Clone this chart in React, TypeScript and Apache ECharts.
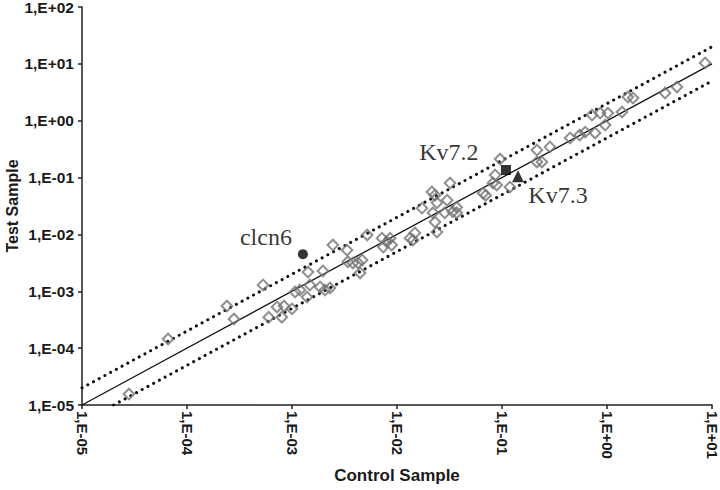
import React, { useEffect, useRef } from "react";
import * as echarts from "echarts";

// Control sample (x) and test sample (y) expression values
const controlValues = [
  2.8e-5, 6.6e-5, 2.4e-4, 2.8e-4, 5.3e-4, 6.0e-4, 7.2e-4, 8.4e-4, 8.0e-4, 1.0e-3,
  1.07e-3, 1.19e-3, 1.39e-3, 1.48e-3, 1.42e-3, 1.97e-3, 1.85e-3, 2.06e-3, 2.3e-3, 2.45e-3,
  3.34e-3, 3.4e-3, 3.8e-3, 4.25e-3, 4.65e-3, 4.45e-3, 5.2e-3, 7.2e-3, 8.0e-3, 8.6e-3,
  8.9e-3, 7.4e-3, 1.33e-2, 1.48e-2, 1.42e-2, 1.73e-2, 2.15e-2, 2.3e-2, 2.4e-2, 2.2e-2,
  2.3e-2, 3.2e-2, 3.0e-2, 2.85e-2, 3.4e-2, 3.7e-2, 3.7e-2, 2.4e-2, 6.6e-2, 7.0e-2,
  8.6e-2, 8.9e-2, 9.6e-2, 8.2e-2, 1.19e-1, 2.15e-1, 2.86e-1, 2.15e-1, 2.4e-1, 4.45e-1,
  5.5e-1, 6.2e-1, 7.7e-1, 7.2e-1, 8.6e-1, 1.02, 0.96, 1.39, 1.58, 1.77,
  3.57, 4.64, 8.6,
];
const testValues = [
  1.56e-5, 1.45e-4, 5.5e-4, 3.25e-4, 1.29e-3, 3.5e-4, 5.3e-4, 5.5e-4, 3.5e-4, 4.9e-4,
  9.7e-4, 1.05e-3, 7.9e-4, 1.29e-3, 2.18e-3, 2.28e-3, 1.19e-3, 1.05e-3, 1.14e-3, 6.5e-3,
  5.3e-3, 3.3e-3, 3.15e-3, 3.15e-3, 3.55e-3, 2.1e-3, 9.8e-3, 8.6e-3, 7.4e-3, 8.6e-3,
  6.5e-3, 6.0e-3, 8.6e-3, 1.06e-2, 8.0e-3, 2.9e-2, 5.6e-2, 4.9e-2, 3.6e-2, 2.4e-2,
  1.65e-2, 8.0e-2, 4.0e-2, 2.4e-2, 2.5e-2, 3.0e-2, 2.4e-2, 1.1e-2, 5.3e-2, 4.9e-2,
  1.11e-1, 7.4e-2, 2.12e-1, 8.0e-2, 6.8e-2, 3.05e-1, 3.45e-1, 1.88e-1, 1.88e-1, 4.97e-1,
  5.6e-1, 6.3e-1, 6.1e-1, 1.26, 1.36, 1.36, 0.84, 1.42, 2.61, 2.51,
  3.07, 3.92, 10.4,
];

// Highlighted genes
const geneNames = ["clcn6", "Kv7.2", "Kv7.3"];
const geneControl = [1.27e-3, 1.09e-1, 1.42e-1];
const geneTest = [4.5e-3, 1.36e-1, 1.06e-1];

// Reference lines: y = x, y = 2x, y = x/2
const identityX = [1e-5, 10];
const identityY = [1e-5, 10];
const upperX = [1e-5, 10];
const upperY = [2e-5, 20];
const lowerX = [2e-5, 10];
const lowerY = [1e-5, 5];

const xMin = 1e-5;
const xMax = 10;
const yMin = 1e-5;
const yMax = 100;

const fmt = (v: number) => {
  const e = Math.round(Math.log10(v));
  return "1,E" + (e < 0 ? "-" : "+") + String(Math.abs(e)).padStart(2, "0");
};

const zip = (a: number[], b: number[]) => a.map((v, i) => [v, b[i]]);

export default function App() {
  const ref = useRef<HTMLDivElement>(null);
  useEffect(() => {
    if (!ref.current) return;
    const chart = echarts.init(ref.current, null, { renderer: "svg" });
    const axisText = {
      fontFamily: "Liberation Sans, Arial, sans-serif",
      fontWeight: "bold" as const,
      color: "#1a1a1a",
    };
    const dotted = {
      color: "#111",
      width: 3,
      type: [0.1, 6.4] as number[],
      cap: "round" as const,
    };
    const geneSymbols = ["circle", "rect", "triangle"];
    const geneSizes = [10, 10, 12];
    const geneOffsets = [
      [-37, -17],
      [-57, -18],
      [40, 19],
    ];
    chart.setOption({
      animation: false,
      backgroundColor: "#fff",
      grid: {
        left: 82,
        right: 8,
        top: 7,
        bottom: 85,
        containLabel: false,
        outerBoundsMode: "none",
      },
      xAxis: {
        type: "log",
        logBase: 10,
        min: xMin,
        max: xMax,
        interval: 1,
        name: "Control Sample",
        nameLocation: "middle",
        nameGap: 62,
        nameMoveOverlap: false,
        nameTextStyle: { ...axisText, fontSize: 17 },
        axisLine: { show: true, lineStyle: { color: "#222", width: 1.5 } },
        axisTick: { show: true, inside: false, length: 4, lineStyle: { color: "#222", width: 1.5 } },
        minorTick: { show: false },
        splitLine: { show: false },
        axisLabel: { ...axisText, fontSize: 15, rotate: -90, margin: 6, formatter: fmt },
      },
      yAxis: {
        type: "log",
        logBase: 10,
        min: yMin,
        max: yMax,
        interval: 1,
        name: "Test Sample",
        nameLocation: "middle",
        nameRotate: 90,
        nameGap: 62,
        nameMoveOverlap: false,
        nameTextStyle: { ...axisText, fontSize: 16 },
        axisLine: { show: true, lineStyle: { color: "#222", width: 1.5 } },
        axisTick: { show: true, inside: false, length: 4, lineStyle: { color: "#222", width: 1.5 } },
        minorTick: { show: false },
        splitLine: { show: false },
        axisLabel: { ...axisText, fontSize: 15.5, margin: 8, formatter: fmt },
      },
      series: [
        {
          type: "line",
          data: zip(identityX, identityY),
          symbol: "none",
          lineStyle: { color: "#111", width: 1.3 },
          z: 2,
        },
        {
          type: "line",
          data: zip(upperX, upperY),
          symbol: "none",
          lineStyle: dotted,
          z: 2,
        },
        {
          type: "line",
          data: zip(lowerX, lowerY),
          symbol: "none",
          lineStyle: dotted,
          z: 2,
        },
        {
          type: "scatter",
          data: zip(controlValues, testValues),
          symbol: "rect",
          symbolRotate: 45,
          symbolSize: 7.5,
          itemStyle: {
            color: "rgba(255,255,255,0)",
            borderColor: "#737373",
            borderWidth: 2,
          },
          z: 3,
        },
        ...geneNames.map((name, i) => ({
          type: "scatter",
          name,
          data: [[geneControl[i], geneTest[i]]],
          symbol: geneSymbols[i],
          symbolSize: geneSizes[i],
          itemStyle: { color: "#000" },
          label: {
            show: true,
            formatter: name,
            position: "inside",
            offset: geneOffsets[i],
            align: "center",
            verticalAlign: "middle",
            fontFamily: "Liberation Serif, Times New Roman, serif",
            fontSize: 24,
            color: "#000",
          },
          z: 4,
        })),
      ],
    });
    return () => chart.dispose();
  }, []);
  return (
    <div
      ref={ref}
      style={{ position: "fixed", left: 0, top: 0, width: 720, height: 490, background: "#fff" }}
    />
  );
}
